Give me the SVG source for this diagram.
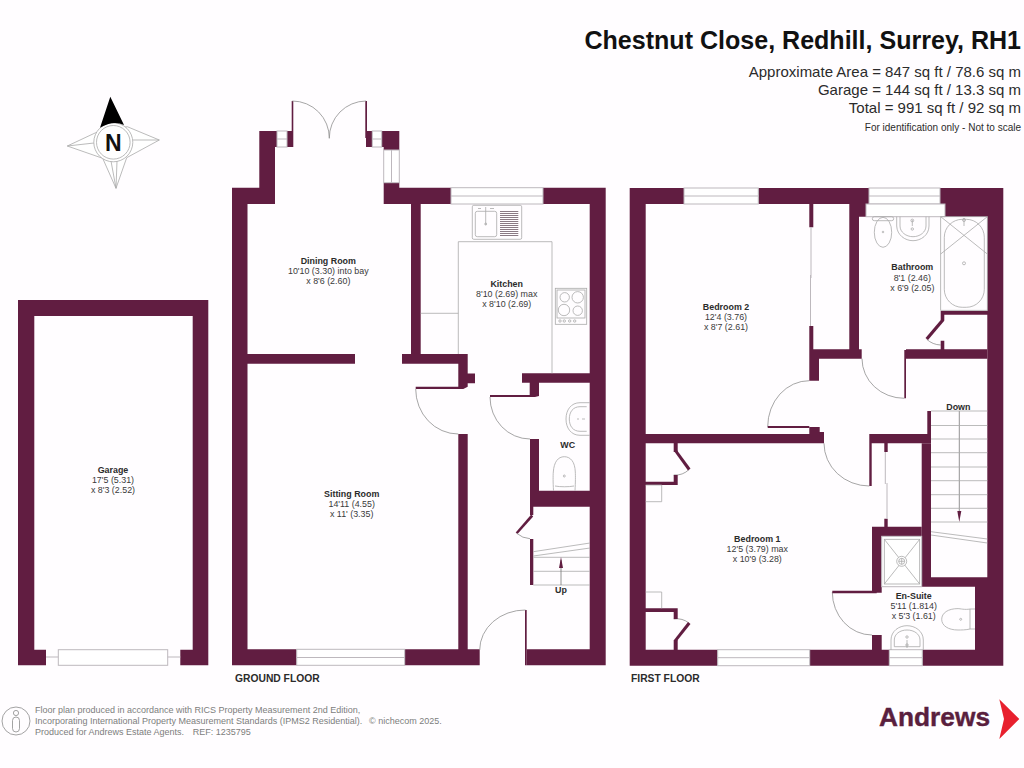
<svg xmlns="http://www.w3.org/2000/svg" width="1024" height="768" viewBox="0 0 1024 768">
<style>
text{font-family:"Liberation Sans",Arial,sans-serif;fill:#2b2b2b}
.w{fill:#611d41;stroke:none}
.t{fill:none;stroke:#a9a9a9;stroke-width:.8}
.d{fill:none;stroke:#8f8f8f;stroke-width:.8}
.win{fill:#fff;stroke:#bdb8bd;stroke-width:1}
.l{fill:none;stroke:#bdb8bd;stroke-width:1}
.r{font-size:8.9px;text-anchor:middle;fill:#3a3a3a}
.b{font-size:8.9px;font-weight:700;text-anchor:middle}
.h{font-size:15px;text-anchor:end}
.f{font-size:9px;fill:#7d7d7d}
.g{font-size:10.3px;font-weight:700}
.m{fill:#611d41;stroke:none}
</style>
<rect width="1024" height="768" fill="#fffdff"/>
<g id="title">
<text x="1021" y="48.5" font-size="25.05" font-weight="700" text-anchor="end" style="fill:#111">Chestnut Close, Redhill, Surrey, RH1</text>
<text class="h" x="1021" y="77">Approximate Area = 847 sq ft / 78.6 sq m</text>
<text class="h" x="1021" y="95">Garage = 144 sq ft / 13.3 sq m</text>
<text class="h" x="1021" y="113">Total = 991 sq ft / 92 sq m</text>
<text x="1021" y="131" font-size="10" text-anchor="end">For identification only - Not to scale</text>
</g>
<g id="compass">
<g fill="#fff" stroke="#a9a9a9" stroke-width=".8">
<path d="M95.7 132.7 67.3 146 102.7 158.3 116 188.3 126.7 157.7 159.3 140 127.3 126.7 95.7 132.7Z"/>
<path d="M67.3 146 94 143M159.3 140 133 140M116 188.3 111 161M116 188.3 117 161"/>
<circle cx="113.3" cy="142.3" r="19.5"/>
<circle cx="113.3" cy="142.3" r="16.8"/>
</g>
<path d="M110.3 96.7 100 127.7Q113 120 124 125Z" fill="#000"/>
<text x="113.3" y="150.5" font-size="23" font-weight="700" text-anchor="middle" style="fill:#111">N</text>
</g>
<g id="garage">
<path class="w" d="M18 300H208.3V665.3H180.3V649.7H192.7V316H34.3V649.7H46V665.3H18Z"/>
<rect class="win" x="58.3" y="649.7" width="109.4" height="15.6"/>
<path class="l" d="M46 657H58.3M167.7 657H180.3"/>
<text class="b" x="113" y="473">Garage</text>
<text class="r" x="113" y="483">17'5 (5.31)</text>
<text class="r" x="113" y="493">x 8'3 (2.52)</text>
</g>
<g id="ground-floor-walls">
<path class="w" d="M232 187.7H259.3V131H277V147H275V204H247.5V354H355V363.7H247.5V649.3H296.7V665.3H232Z"/>
<path class="w" d="M287 131H291.7V101H293.3V147H287Z"/>
<path class="w" d="M365.3 101H367V131H372.3V147H366V138H365.3ZM381.7 131H399.3V150H383.7V147H381.7Z"/>
<path class="w" d="M383.7 182.7H399.3V187.7H451V204H420.7V354H467.7V373.5H475V383.3H467.7V386.7L463.3 389H415.7V386.7H458.3V363.7H402V354H411V204H383.7Z"/>
<path class="w" d="M543 187.7H605.7V665.3H526.7V649.3H589.7V506.7H533.3V515H530V439H539V490.7H589.7V382.7H539V396L535 397H490V395H529.7V382.7H522V373.3H589.7V204H543Z"/>
<path class="w" d="M530 539H533.3V585H530Z"/>
<path class="w" d="M404.7 649.3H458.3V434H467.7V649.3H479.7V665.3H404.7ZM525 610H526.7V665.3H525Z"/>
<path class="w" d="M531.2 514.5 533.2 516.5 517.5 534 515.7 532.5Z"/>
</g>
<g id="ground-floor-fittings">
<rect class="win" x="277" y="131" width="10" height="16"/><path class="l" d="M277 139H287"/>
<rect class="win" x="372.3" y="131" width="9.4" height="16"/><path class="l" d="M372.3 139H381.7"/>
<rect class="win" x="383.7" y="150" width="15.6" height="32.7"/><path class="l" d="M391.5 150V182.7"/>
<rect class="win" x="451" y="187.7" width="92" height="16.3"/><path class="l" d="M451 196H543"/>
<rect class="win" x="296.7" y="649.3" width="108" height="16"/><path class="l" d="M296.7 657.5H404.7"/>
<path class="t" d="M458.3 354V241.7H552V373.3M420.7 313.3H458.3"/>
<rect class="t" x="472.3" y="205.3" width="49.4" height="34" rx="1.5"/>
<rect class="t" x="475.3" y="211.3" width="21.4" height="25.4" rx="2"/>
<path d="M500 211.5H518.3M500 213.5H518.3M500 215.5H518.3M500 217.5H518.3M500 219.5H518.3M500 221.5H518.3M500 223.5H518.3M500 225.5H518.3M500 227.5H518.3M500 229.5H518.3M500 231.5H518.3M500 233.5H518.3M500 235.5H518.3" fill="none" stroke="#8a7a84" stroke-width="1"/>
<path class="t" d="M485.7 207V225M478 208.5H481M490 208.5H494"/><circle class="t" cx="485.7" cy="224" r="1"/>
<rect class="t" x="555.3" y="288.3" width="31.4" height="36"/>
<rect class="t" x="557" y="290" width="28" height="28"/>
<g class="t"><circle cx="564.7" cy="297.3" r="4.7"/><circle cx="577.7" cy="297.3" r="5.7"/><circle cx="564" cy="310" r="5.7"/><circle cx="577.7" cy="310.7" r="4.7"/><circle cx="560" cy="321" r="1.2"/><circle cx="564.3" cy="321" r="1.2"/><circle cx="569.7" cy="321" r="1.2"/><circle cx="574.7" cy="321" r="1.2"/></g>
<path class="t" d="M590 402.7H580C571 402.7 566 410 566 419S571 435.3 580 435.3H590M586.7 406.7H580C573 406.7 569.3 412 569.3 419S573 431.3 580 431.3H586.7"/>
<path class="t" d="M577 419H579M582 419H585"/>
<path class="t" d="M553.5 490.7C553 482 553 476 553.3 472C554 462 558 456.7 564.3 456.7S575 462 575.3 472C575.5 476 575.5 482 575 490.7M555 486C560 487 569 487 574 486"/>
<circle class="t" cx="564.3" cy="476" r="1"/>
<path class="t" d="M533.3 585H590M533.3 571.3H590M533.3 557.3H590M533.3 551.7 590 543M533.3 556 590 548"/>
</g>
<g id="connectors">
<path class="d" d="M292.3 101A37 37 0 0 1 329.3 138.3M366 101A37 37 0 0 0 329.3 138.3"/>
<path class="d" d="M415.7 389A42.6 45 0 0 0 458.3 434M490 397A40 42 0 0 0 530 439M479.7 650A45.5 40 0 0 1 525.5 610M516.7 533.3A22 22 0 0 0 530 538.7"/>
<path class="d" d="M809.3 380.7A41.5 46 0 0 0 767.7 426.7M862 358.7A42.3 39.6 0 0 0 904.3 398.3M824 443.3A45.3 42.7 0 0 0 869.3 486M832.3 592A39.7 43 0 0 0 872 635"/>
<path class="d" d="M689.3 469.3A20 20 0 0 1 673.7 475M673.7 619A20 20 0 0 1 689.3 623.3M926.7 339.3A22 22 0 0 0 940.7 345"/>
<path d="M561 585V560" fill="none" stroke="#777" stroke-width=".8"/><path class="m" d="M561 557 563 568H559Z"/>
<path d="M959.3 411V515" fill="none" stroke="#777" stroke-width=".8"/><path class="m" d="M959.3 522 957.3 511H961.3Z"/>
</g>
<g id="first-floor-walls">
<path class="w" d="M629.7 188H684V204H645.7V434H809.3V427H819.7V432H824V443.3H677.7V452H673.7V443.3H645.7V481.7H673.7V475H677.7V485H645.7V608.3H677.7V619H673.7V612H645.7V649.7H673.7V640H677.7V649.7H717.7V665.7H629.7Z"/>
<path class="w" d="M758.3 188H869V204H866V216.7H859V349.3H861.7V358.7H819V380.7H809.3V326H813.3V349.3H849.3V204H813.3V227.3H809.3V204H758.3Z"/>
<path class="w" d="M767.7 426H809.3V428H767.7Z"/>
<path class="w" d="M940 188H1003.3V665.7H922.3V649.7H975V586.7H931V443.3H887.7V452H884.3V443.3H871.7V486H869.3V434H927.3V411H931V577.3H987.3V314.7H944.3V320H940.7V311H987.3V216.7H945V204H940Z"/>
<path class="w" d="M906 349.3H940.7V340.7H944.3V349.3H987.3V358.7H906V398.3H904.3V350H906Z"/>
<path class="w" d="M921.7 443.3H931V586.7H921.7Z"/>
<path class="w" d="M866 526.7H884.3V518.7H887.7V526.7H921.7V536.3H881.7V592.7H876.7V593.3H832.3V590.7H872V526.7Z"/>
<path class="w" d="M809.7 649.7H872V635H881.7V649.7H889.3V665.7H809.7Z"/>
<path class="w" d="M942 318.5 944.5 320.5 928 340 925.5 338Z"/>
<path class="w" d="M674 451 676.5 449.5 690.5 468.5 688 470.5Z"/>
<path class="w" d="M688 622 690.5 624 676.5 641.5 674 640Z"/>
</g>
<g id="first-floor-fittings">
<rect class="win" x="684" y="188" width="74.3" height="16"/><path class="l" d="M684 196H758.3"/>
<rect class="win" x="869" y="188" width="71" height="16"/><path class="l" d="M869 196H940"/>
<rect class="win" x="866" y="204" width="79" height="12.7"/>
<rect class="win" x="717.7" y="649.7" width="92" height="16"/><path class="l" d="M717.7 657.7H809.7"/>
<rect class="win" x="889.3" y="649.7" width="33" height="16"/><path class="l" d="M889.3 657.7H922.3"/>
<path class="l" d="M811 227V278M810.5 275V326M885.3 452V484M887 483V518.7"/>
<rect class="t" x="940.7" y="216.7" width="46.6" height="93.6"/>
<rect class="t" x="944.3" y="219.3" width="40" height="88" rx="18"/>
<path class="t" d="M940.7 216.7 987.3 254M987.3 216.7 940.7 254"/>
<circle class="t" cx="964" cy="263.3" r="1.5"/><path class="t" d="M964 218V226"/><circle class="t" cx="964" cy="220" r="1.5"/>
<rect class="t" x="872.3" y="216.7" width="21.4" height="4" rx="2"/>
<ellipse class="t" cx="883" cy="232.3" rx="8.7" ry="15"/><circle class="t" cx="883" cy="232" r=".8"/>
<path class="t" d="M896.7 216.7V226C897 235 905 240.7 913 240.7S929 235 929 226V216.7M900 216.7V226C900 232 906 236.7 913 236.7S926 232 926 226V216.7"/>
<circle class="t" cx="912.3" cy="229" r="1.2"/><circle class="t" cx="912.3" cy="220.5" r="1.4"/><path class="t" d="M912.3 220V226"/>
<path class="t" d="M645.7 485H661.7V501.7H645.7M645.7 592H661.7V608.3"/>
<rect class="win" x="881.7" y="536.3" width="40" height="50.4"/>
<rect class="t" x="884.3" y="539.3" width="35.4" height="44.7"/>
<path class="t" d="M884.3 539.3 919.7 584M919.7 539.3 884.3 584"/>
<circle class="t" cx="901.7" cy="561.3" r="5" style="fill:#fff"/><circle class="t" cx="901.7" cy="561.3" r="3"/><path class="t" d="M898.7 561.3H904.7M901.7 558.3V564.3"/>
<path class="t" d="M975 609H970C965 610 960 608.6 958 608.6C948 608.6 941.7 613 941.7 619.3S948 630 958 630C961 630 966 630 970 629H975M970 609V629"/>
<circle class="t" cx="960.7" cy="619.3" r="1"/>
<path class="t" d="M891 650V640C891 631 899 625.7 907 625.7S923.3 631 923.3 640V650M894.3 646.7V640C894.3 634 900 630 907 630S920 634 920 640V646.7H894.3"/>
<circle class="t" cx="907" cy="637" r="1.2"/><path class="t" d="M907 640V648"/><circle class="t" cx="907" cy="645" r="1.2"/>
<path class="t" d="M931 411H987.3M931 425.5H987.3M931 439H987.3M931 452.7H987.3M931 467H987.3M931 480.7H987.3M931 494.7H987.3M931 508.3H987.3M931 522H987.3M931 531.7 987.3 539M931 535 987.3 543"/>
</g>
<g id="rooms">
<g id="dining-room"><text class="b" x="328.3" y="264.3">Dining Room</text><text class="r" x="328.3" y="274.3">10'10 (3.30) into bay</text><text class="r" x="328.3" y="284.3">x 8'6 (2.60)</text></g>
<g id="kitchen"><text class="b" x="506.7" y="286.7">Kitchen</text><text class="r" x="506.7" y="296.7">8'10 (2.69) max</text><text class="r" x="506.7" y="306.7">x 8'10 (2.69)</text></g>
<g id="sitting-room"><text class="b" x="351.7" y="497.3">Sitting Room</text><text class="r" x="351.7" y="507.3">14'11 (4.55)</text><text class="r" x="351.7" y="517.3">x 11' (3.35)</text></g>
<g id="wc"><text class="b" x="567.7" y="448">WC</text></g>
<text class="b" x="561" y="593">Up</text>
<g id="bedroom-2"><text class="b" x="726" y="310">Bedroom 2</text><text class="r" x="726" y="320">12'4 (3.76)</text><text class="r" x="726" y="330">x 8'7 (2.61)</text></g>
<g id="bathroom"><text class="b" x="912.3" y="270.3">Bathroom</text><text class="r" x="912.3" y="280.5">8'1 (2.46)</text><text class="r" x="912.3" y="290.5">x 6'9 (2.05)</text></g>
<text class="b" x="958.3" y="409.5">Down</text>
<g id="bedroom-1"><text class="b" x="757.3" y="541.7">Bedroom 1</text><text class="r" x="757.3" y="551.7">12'5 (3.79) max</text><text class="r" x="757.3" y="561.7">x 10'9 (3.28)</text></g>
<g id="en-suite"><text class="b" x="913.7" y="599">En-Suite</text><text class="r" x="913.7" y="609">5'11 (1.814)</text><text class="r" x="913.7" y="619">x 5'3 (1.61)</text></g>
<text class="g" x="235" y="682.3">GROUND FLOOR</text>
<text class="g" x="631" y="681.7">FIRST FLOOR</text>
</g>
<g id="footer">
<circle cx="16" cy="721" r="14" fill="none" stroke="#8c8c8c" stroke-width=".8"/>
<circle cx="16" cy="713" r="2.6" fill="none" stroke="#8c8c8c" stroke-width=".8"/>
<rect x="12.5" y="717" width="7" height="15" rx="3.5" fill="none" stroke="#8c8c8c" stroke-width=".8"/>
<text class="f" x="35" y="713">Floor plan produced in accordance with RICS Property Measurement 2nd Edition,</text>
<text class="f" x="35" y="724">Incorporating International Property Measurement Standards (IPMS2 Residential).<tspan x="369">© nichecom 2025.</tspan></text>
<text class="f" x="35" y="735">Produced for Andrews Estate Agents.<tspan x="192.7">REF: 1235795</tspan></text>
</g>
<g id="logo">
<text x="879" y="726" font-size="26.3" font-weight="700" style="fill:#5a1f3e;stroke:#5a1f3e;stroke-width:.4">Andrews</text>
<path d="M999.3 699.3 1019.3 719 999.3 739 1004 719Z" fill="#e8202e"/>
</g>
</svg>
